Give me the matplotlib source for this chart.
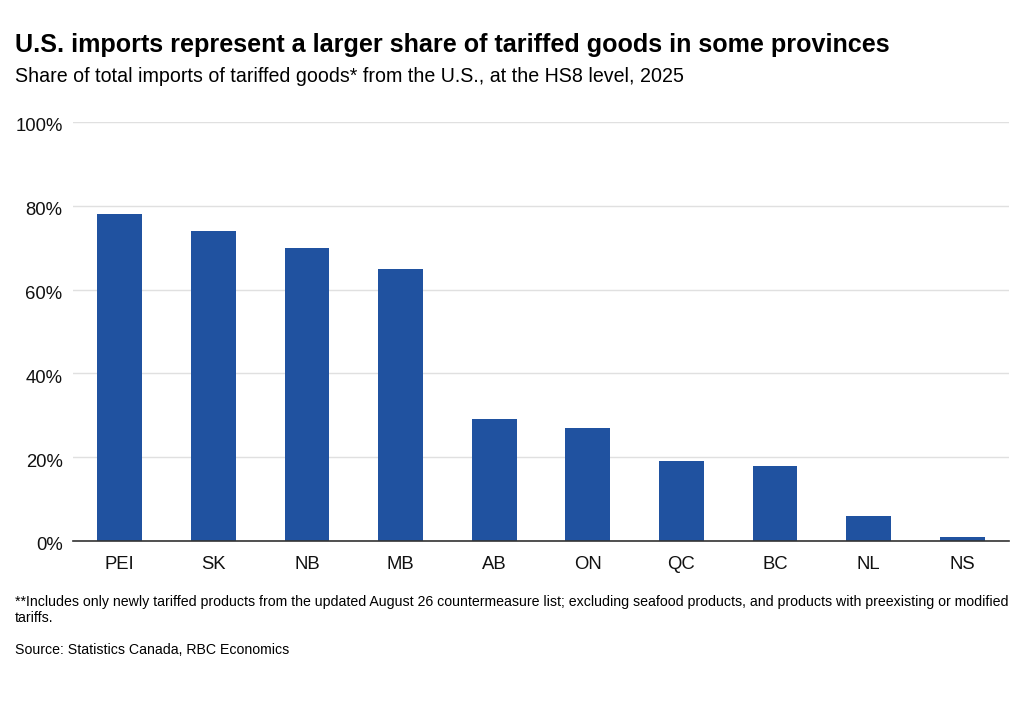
import matplotlib.pyplot as plt
from matplotlib.ticker import FuncFormatter
from matplotlib.transforms import ScaledTranslation

plt.rcParams['font.family'] = ['Liberation Sans', 'DejaVu Sans']

provinces = ['PEI', 'SK', 'NB', 'MB', 'AB', 'ON', 'QC', 'BC', 'NL', 'NS']
share = [78, 74, 70, 65, 29, 27, 19, 18, 6, 1]

W, H = 1023, 701
fig = plt.figure(figsize=(W / 100, H / 100), dpi=100)
ax = fig.add_axes([73 / W, 1 - 541 / H, (1009 - 73) / W, (541 - 122) / H])

x = range(len(provinces))
ax.bar(x, share, width=0.48, color='#2052a0', zorder=3)

ax.set_xlim(-0.5, len(provinces) - 0.5)
ax.set_ylim(0, 100)
ax.set_yticks([0, 20, 40, 60, 80, 100])
ax.yaxis.set_major_formatter(FuncFormatter(lambda v, p: f'{v:.0f}%'))
ax.set_xticks(list(x))
ax.set_xticklabels(provinces)
ax.tick_params(axis='both', length=0, labelsize=13.3, colors='#111111')
ax.tick_params(axis='x', pad=11)
ax.tick_params(axis='y', pad=7.5)
# labels sit a touch below their gridlines in the reference
shift = ScaledTranslation(0, -3 / 100, fig.dpi_scale_trans)
for lab in ax.get_yticklabels():
    lab.set_transform(lab.get_transform() + shift)
ax.grid(axis='y', color='#e0e0e0', linewidth=1, zorder=0)
for s in ['top', 'right', 'left']:
    ax.spines[s].set_visible(False)
ax.spines['bottom'].set_color('#333333')
ax.spines['bottom'].set_linewidth(1.2)
ax.spines['bottom'].set_zorder(4)

fig.text(15 / W, 1 - 45 / H, 'U.S. imports represent a larger share of tariffed goods in some provinces',
         fontsize=18.1, fontweight='bold', va='center', ha='left')
fig.text(15 / W, 1 - 77 / H, 'Share of total imports of tariffed goods* from the U.S., at the HS8 level, 2025',
         fontsize=14.1, va='center', ha='left')
fig.text(15 / W, 1 - 610 / H,
         '**Includes only newly tariffed products from the updated August 26 countermeasure list; '
         'excluding seafood products, and products with preexisting or modified\ntariffs.',
         fontsize=10.2, va='center', ha='left', linespacing=1.25)
fig.text(15 / W, 1 - 650 / H, 'Source: Statistics Canada, RBC Economics',
         fontsize=10.2, va='center', ha='left')

fig.savefig('out.png', dpi=100)
